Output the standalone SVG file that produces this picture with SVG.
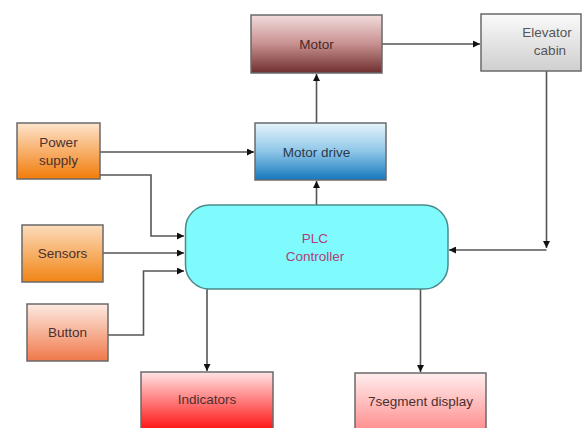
<svg xmlns="http://www.w3.org/2000/svg" width="582" height="428" viewBox="0 0 582 428">
<style>
.box{stroke:#6a6a6a;stroke-width:1.5}
.t{font-family:"Liberation Sans",Arial,sans-serif;font-size:13.5px;fill:#4a3030;text-anchor:middle}
.c{fill:none;stroke:#555;stroke-width:1.6}
</style>
<defs>
<linearGradient id="gMotor" x1="0" y1="0" x2="0" y2="1"><stop offset="0" stop-color="#f2dcdc"/><stop offset="0.5" stop-color="#c89090"/><stop offset="1" stop-color="#6e2e2e"/></linearGradient>
<linearGradient id="gCab" x1="0" y1="0" x2="0" y2="1"><stop offset="0" stop-color="#fafafa"/><stop offset="1" stop-color="#cfcfcf"/></linearGradient>
<linearGradient id="gPow" x1="0" y1="0" x2="0" y2="1"><stop offset="0" stop-color="#fde4cc"/><stop offset="1" stop-color="#f27c0a"/></linearGradient>
<linearGradient id="gDrive" x1="0" y1="0" x2="0" y2="1"><stop offset="0" stop-color="#e6f4fb"/><stop offset="0.5" stop-color="#8ec6e8"/><stop offset="1" stop-color="#1478bc"/></linearGradient>
<linearGradient id="gSens" x1="0" y1="0" x2="0" y2="1"><stop offset="0" stop-color="#fddcbc"/><stop offset="1" stop-color="#f18414"/></linearGradient>
<linearGradient id="gBtn" x1="0" y1="0" x2="0" y2="1"><stop offset="0" stop-color="#fdeae2"/><stop offset="1" stop-color="#f0784a"/></linearGradient>
<linearGradient id="gInd" x1="0" y1="0" x2="0" y2="1"><stop offset="0" stop-color="#ffe4e4"/><stop offset="1" stop-color="#ff0a0a"/></linearGradient>
<linearGradient id="gSeg" x1="0" y1="0" x2="0" y2="1"><stop offset="0" stop-color="#ffeeee"/><stop offset="1" stop-color="#ff8a8a"/></linearGradient>
<marker id="ah" viewBox="0 0 10 10" refX="10" refY="5" markerWidth="7" markerHeight="7" markerUnits="userSpaceOnUse" orient="auto"><path d="M0,0 L10,5 L0,10 z" fill="#111"/></marker>
</defs>
<rect width="582" height="428" fill="#ffffff"/>
<g id="connectors">
<path class="c" d="M316.5,123 V74" marker-end="url(#ah)"/>
<path class="c" d="M382,44 H480" marker-end="url(#ah)"/>
<path class="c" d="M100,152 H254" marker-end="url(#ah)"/>
<path class="c" d="M316.5,205 V181" marker-end="url(#ah)"/>
<path class="c" d="M100,175 H151 V236 H184" marker-end="url(#ah)"/>
<path class="c" d="M103,253 H184" marker-end="url(#ah)"/>
<path class="c" d="M108,335 H143.5 V271 H184" marker-end="url(#ah)"/>
<path class="c" d="M546.5,71 V248" marker-end="url(#ah)"/>
<path class="c" d="M546.5,250 H449" marker-end="url(#ah)"/>
<path class="c" d="M207,289 V371" marker-end="url(#ah)"/>
<path class="c" d="M420.5,289 V372" marker-end="url(#ah)"/>
</g>
<g id="motor"><rect class="box" x="251" y="15" width="131" height="58" fill="url(#gMotor)"/><text class="t" x="316.5" y="49" style="fill:#4a2a2a">Motor</text></g>
<g id="elevator-cabin"><rect class="box" x="481" y="14" width="100" height="57" fill="url(#gCab)"/><text class="t" x="547" y="37" style="fill:#555">Elevator</text><text class="t" x="550" y="55" style="fill:#555">cabin</text></g>
<g id="power-supply"><rect class="box" x="17" y="123" width="83" height="56" fill="url(#gPow)"/><text class="t" x="58.5" y="147">Power</text><text class="t" x="58.5" y="165">supply</text></g>
<g id="motor-drive"><rect class="box" x="255" y="123" width="131" height="57" fill="url(#gDrive)"/><text class="t" x="316.5" y="156.5" style="fill:#2a3a4a">Motor drive</text></g>
<g id="plc"><rect x="185.5" y="205" width="262.5" height="84" rx="24" ry="24" fill="#80fbfd" stroke="#4d8a8a" stroke-width="1.5"/><text class="t" x="315" y="243" style="fill:#b0407a">PLC</text><text class="t" x="315" y="261" style="fill:#b0407a">Controller</text></g>
<g id="sensors"><rect class="box" x="22" y="225" width="81" height="57" fill="url(#gSens)"/><text class="t" x="62.5" y="258">Sensors</text></g>
<g id="button"><rect class="box" x="27" y="304" width="81" height="57" fill="url(#gBtn)"/><text class="t" x="67.5" y="337">Button</text></g>
<g id="indicators"><rect class="box" x="141" y="372" width="132" height="60" fill="url(#gInd)"/><text class="t" x="207" y="404">Indicators</text></g>
<g id="seven-segment"><rect class="box" x="355" y="373" width="131" height="60" fill="url(#gSeg)"/><text class="t" x="420.5" y="406">7segment display</text></g>
</svg>
